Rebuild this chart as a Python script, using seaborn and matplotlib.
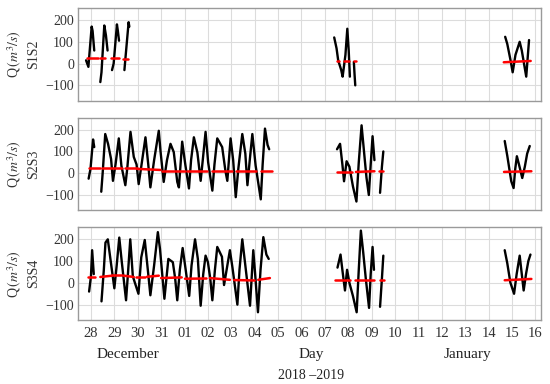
import numpy as np
import pandas as pd
import matplotlib
matplotlib.use('Agg')
import matplotlib.pyplot as plt
from matplotlib.ticker import MultipleLocator
import seaborn as sns

# x axis: days counted from 28 December 2018, 00:00
day_ticks = list(range(20))
day_labels = ['28', '29', '30', '31', '01', '02', '03', '04', '05', '06',
              '07', '08', '09', '10', '11', '12', '13', '14', '15', '16']
panel_names = ['S1S2', 'S2S3', 'S3S4']

# discharge Q (m3/s), one inner list per recorded block
s1s2_t = [[-0.21, -0.11, 0.03, 0.07, 0.14],
          [0.40, 0.45, 0.57, 0.64, 0.71],
          [0.90, 0.97, 1.11, 1.15, 1.20],
          [1.43, 1.47, 1.61, 1.64],
          [10.40, 10.50, 10.57, 10.70, 10.76, 10.88, 10.96, 11.02, 11.07],
          [11.24, 11.27, 11.30],
          [17.71, 17.80, 17.93, 18.03, 18.15, 18.33, 18.42, 18.61, 18.73]]
s1s2_q = [[15, -15, 170, 150, 60],
          [-85, -40, 175, 130, 60],
          [-30, 0, 180, 150, 105],
          [-30, 20, 190, 170],
          [120, 70, 15, -30, -60, 40, 160, 60, -60],
          [8, -50, -100],
          [123, 90, 20, -40, 40, 100, 60, -60, 108]]

s2s3_t = [[-0.10, -0.02, 0.09, 0.14],
          [0.44, 0.50, 0.61, 0.73, 0.86, 0.94, 1.05, 1.19, 1.30, 1.47, 1.55, 1.69,
           1.83, 1.95, 2.04, 2.15, 2.33, 2.45, 2.54, 2.70, 2.90, 2.97, 3.11, 3.25,
           3.40, 3.54, 3.69, 3.76, 3.90, 4.04, 4.19, 4.28, 4.40, 4.55, 4.69, 4.78,
           4.90, 5.01, 5.19, 5.28, 5.40, 5.61, 5.75, 5.83, 5.97, 6.08, 6.19, 6.30,
           6.47, 6.60, 6.69, 6.78, 6.90, 7.04, 7.26, 7.34, 7.44, 7.55, 7.62],
          [10.52, 10.65, 10.75, 10.82, 10.93, 11.05, 11.20, 11.35, 11.45, 11.57,
           11.70, 11.78, 11.88, 11.96, 12.04, 12.12],
          [12.36, 12.44, 12.50],
          [17.69, 17.80, 17.97, 18.07, 18.14, 18.21, 18.30, 18.44, 18.55, 18.65, 18.76]]
s2s3_q = [[-25, 20, 155, 120],
          [-85, 0, 180, 135, 65, -35, 40, 160, 35, -55, 20, 190,
           75, 40, -50, 30, 165, 40, -65, 60, 195, 105, -40, 60,
           135, 97, -40, -65, 145, 35, -70, 60, 165, 95, -35, 60,
           190, 50, -80, 40, 160, 120, 10, -35, 160, 60, -110, 20,
           180, 90, -55, 50, 180, 35, -120, 40, 205, 130, 110],
          [110, 135, 40, -37, 55, 30, -60, -130, 50, 220,
           70, -20, -100, 40, 170, 60],
          [-90, 30, 100],
          [148, 80, -37, -68, 20, 78, 40, -22, 30, 90, 125]]

s3s4_t = [[-0.08, 0.00, 0.05, 0.12],
          [0.45, 0.55, 0.62, 0.72, 0.85, 1.00, 1.10, 1.21, 1.32, 1.50, 1.58, 1.68,
           1.79, 2.03, 2.15, 2.30, 2.45, 2.54, 2.70, 2.86, 2.95, 3.14, 3.31, 3.50,
           3.60, 3.69, 3.80, 3.92, 4.05, 4.20, 4.30, 4.45, 4.57, 4.69, 4.80, 4.90,
           5.00, 5.10, 5.19, 5.30, 5.40, 5.60, 5.69, 5.80, 5.94, 6.05, 6.26, 6.35,
           6.47, 6.60, 6.80, 6.88, 6.94, 7.02, 7.14, 7.25, 7.37, 7.50, 7.60],
          [10.54, 10.67, 10.76, 10.86, 10.95, 11.05, 11.20, 11.36, 11.45, 11.54,
           11.64, 11.75, 11.89, 11.96, 12.04, 12.10],
          [12.36, 12.44, 12.50],
          [17.69, 17.80, 17.93, 18.09, 18.20, 18.33, 18.42, 18.50, 18.60, 18.70, 18.79]]
s3s4_q = [[-40, 30, 150, 40],
          [-85, 60, 185, 200, 95, -25, 80, 208, 94, -80, 40, 200,
           30, -50, 117, 197, 40, -57, 80, 233, 157, -73, 110, 95,
           20, -80, 60, 160, 60, -60, 80, 200, 110, -105, 40, 125,
           95, 20, -80, 60, 165, 120, -10, 60, 150, 70, -100, 60,
           200, 80, -105, 40, 150, 40, -135, 60, 210, 130, 110],
          [70, 130, 50, -35, 60, 0, -60, -135, 60, 240,
           140, 20, -115, 40, 165, 60],
          [-110, 20, 125],
          [150, 90, 2, -50, 40, 125, 40, -35, 40, 100, 130]]

# mean discharge segments (start day, end day, start value, end value)
s1s2_mean_t0 = [-0.15, 0.40, 0.85, 1.38, 10.50, 10.80, 11.26, 17.65]
s1s2_mean_t1 = [0.30, 0.62, 1.20, 1.60, 10.62, 11.02, 11.32, 18.80]
s1s2_mean_v0 = [25, 25, 25, 22, 10, 12, 10, 6]
s1s2_mean_v1 = [25, 25, 25, 22, 10, 12, 10, 12]

s2s3_mean_t0 = [-0.10, 0.47, 1.47, 1.97, 3.04, 4.10, 5.19, 6.19, 7.26, 10.50, 11.33, 12.33, 17.66]
s2s3_mean_t1 = [0.40, 1.33, 1.97, 2.97, 4.04, 4.97, 6.04, 7.04, 7.75, 11.14, 12.12, 12.48, 18.83]
s2s3_mean_v0 = [25, 25, 23, 20, 12, 11, 12, 9, 9, 6, 6, 12, 6]
s2s3_mean_v1 = [25, 25, 23, 15, 12, 11, 12, 9, 9, 6, 9, 12, 9]

s3s4_mean_t0 = [-0.13, 0.40, 0.90, 1.40, 1.92, 2.40, 3.00, 4.02, 5.08, 6.12, 7.15, 10.43, 11.29, 12.37, 17.69]
s3s4_mean_t1 = [0.19, 0.90, 1.33, 1.83, 2.33, 2.90, 3.88, 4.94, 5.94, 7.00, 7.65, 11.07, 12.10, 12.54, 18.83]
s3s4_mean_v0 = [25, 27, 35, 33, 27, 28, 22, 19, 22, 13, 14, 14, 14, 14, 12]
s3s4_mean_v1 = [25, 33, 35, 27, 27, 33, 25, 20, 14, 11, 22, 14, 14, 14, 18]

series = {'S1S2': (s1s2_t, s1s2_q), 'S2S3': (s2s3_t, s2s3_q), 'S3S4': (s3s4_t, s3s4_q)}
means = {'S1S2': (s1s2_mean_t0, s1s2_mean_t1, s1s2_mean_v0, s1s2_mean_v1),
         'S2S3': (s2s3_mean_t0, s2s3_mean_t1, s2s3_mean_v0, s2s3_mean_v1),
         'S3S4': (s3s4_mean_t0, s3s4_mean_t1, s3s4_mean_v0, s3s4_mean_v1)}

rows = []
for name, (tt, qq) in series.items():
    for k, (t, q) in enumerate(zip(tt, qq)):
        for a, b in zip(t, q):
            rows.append((name, k, a, b))
df = pd.DataFrame(rows, columns=['panel', 'seg', 't', 'q'])

rows = []
for name, (t0, t1, v0, v1) in means.items():
    for k in range(len(t0)):
        rows.append((name, k, t0[k], v0[k]))
        rows.append((name, k, t1[k], v1[k]))
dm = pd.DataFrame(rows, columns=['panel', 'seg', 't', 'q'])

sns.set_style('white')
plt.rcParams['font.family'] = ['Liberation Serif', 'DejaVu Serif']
plt.rcParams['mathtext.fontset'] = 'stix'

fig, axes = plt.subplots(3, 1, figsize=(5.5, 3.84), dpi=100, sharex=True)
fig.subplots_adjust(left=0.142, right=0.984, top=0.979, bottom=0.167, hspace=0.185)

for ax, name in zip(axes, panel_names):
    # measured discharge, drawn as a heavy dark trace
    sns.lineplot(data=df[df.panel == name], x='t', y='q', units='seg', estimator=None,
                 sort=False, color='black', lw=1.7, ax=ax)
    # tidal mean
    sns.lineplot(data=dm[dm.panel == name], x='t', y='q', units='seg', estimator=None,
                 sort=False, color='red', lw=1.8, ax=ax)
    ax.set_xlim(-0.55, 19.25)
    ax.set_ylim(-170, 255)
    ax.set_xticks(day_ticks)
    ax.set_xticklabels(day_labels)
    ax.set_yticks([-100, 0, 100, 200])
    ax.yaxis.set_minor_locator(MultipleLocator(20))
    ax.grid(True, which='major', color='#dcdcdc', lw=0.8)
    ax.set_axisbelow(True)
    for s in ax.spines.values():
        s.set_color('#9a9a9a')
        s.set_linewidth(1.0)
    ax.tick_params(axis='both', which='major', direction='in', length=4, color='#9a9a9a',
                   labelsize=10, labelcolor='#333333', pad=3)
    ax.tick_params(axis='y', which='minor', direction='in', length=2, color='#9a9a9a')
    ax.set_xlabel('')
    ax.set_ylabel('')
    ax.text(-0.097, 0.5, name, rotation=90, transform=ax.transAxes,
            ha='center', va='center', fontsize=10, color='#333333')
    ax.text(-0.137, 0.5, r'Q$\,(m^3/s)$', rotation=90, transform=ax.transAxes,
            ha='center', va='center', fontsize=10, color='#333333')

axes[-1].tick_params(axis='x', labelsize=10.5, pad=5)

fig.text(0.233, 0.078, 'December', ha='center', va='center', fontsize=11, color='#222222')
fig.text(0.565, 0.078, 'Day', ha='center', va='center', fontsize=11, color='#222222')
fig.text(0.849, 0.078, 'January', ha='center', va='center', fontsize=11, color='#222222')
fig.text(0.565, 0.021, '2018 \u20132019', ha='center', va='center', fontsize=10, color='#222222')

fig.savefig('out.png', dpi=100)
